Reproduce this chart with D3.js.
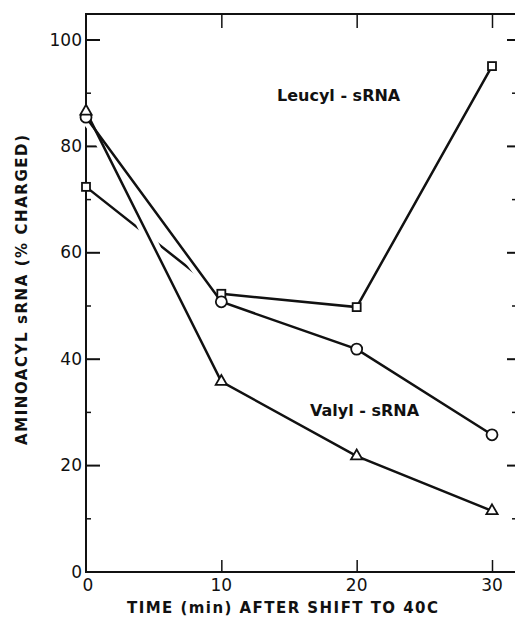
<!DOCTYPE html>
<html>
<head>
<meta charset="utf-8">
<script src="https://cdn.jsdelivr.net/npm/d3@7"></script>
<style>
  body { margin: 0; background: #fff; }
  svg { display: block; }
  text { font-family: "DejaVu Sans", sans-serif; fill: #111; }
</style>
</head>
<body>
<div id="chart"></div>
<script>
// data
const times = [0, 10, 20, 30];
const leucyl = [72.3, 52.2, 49.7, 95.0];   // squares
const valylCircle = [85.4, 50.7, 41.8, 25.7]; // circles
const valylTriangle = [86.5, 35.7, 21.7, 11.4]; // triangles
const yTicks = [0, 20, 40, 60, 80, 100];
const yMinor = [10, 30, 50, 70, 90];
const xTicks = [0, 10, 20, 30];

const width = 515;
const height = 621;

const x = d3.scaleLinear().domain([0, 30]).range([86, 492]);
const y = d3.scaleLinear().domain([0, 100]).range([571.5, 39.5]);

const svg = d3.select('#chart')
    .append('svg')
    .attr('width', width)
    .attr('height', height);

const ink = '#111';

// frame: left axis, bottom axis, top line
svg.append('line').attr('x1', 86).attr('x2', 86).attr('y1', 14).attr('y2', 572)
    .attr('stroke', ink).attr('stroke-width', 2);
svg.append('line').attr('x1', 85).attr('x2', 515).attr('y1', 572).attr('y2', 572)
    .attr('stroke', ink).attr('stroke-width', 2);
svg.append('line').attr('x1', 85).attr('x2', 515).attr('y1', 14).attr('y2', 14)
    .attr('stroke', ink).attr('stroke-width', 2);

// left axis, ticks pointing inward
const yAxis = d3.axisRight(y).tickValues(yTicks).tickSize(14).tickFormat('');
svg.append('g').attr('transform', 'translate(86,0)').call(yAxis)
    .call(g => g.select('.domain').remove())
    .call(g => g.selectAll('line').attr('stroke', ink).attr('stroke-width', 2));
svg.append('g').attr('transform', 'translate(86,0)')
    .call(d3.axisRight(y).tickValues(yMinor).tickSize(5).tickFormat(''))
    .call(g => g.select('.domain').remove())
    .call(g => g.selectAll('line').attr('stroke', ink).attr('stroke-width', 1.5));

svg.selectAll('.ylab')
    .data(yTicks)
    .enter()
    .append('text')
    .attr('class', 'ylab')
    .attr('x', 82)
    .attr('y', d => y(d))
    .attr('dy', '0.36em')
    .attr('text-anchor', 'end')
    .style('font-size', '17px')
    .text(d => d);

// right side ticks
svg.append('g').attr('transform', 'translate(515,0)')
    .call(d3.axisLeft(y).tickValues(yTicks.filter(d => d > 0)).tickSize(8).tickFormat(''))
    .call(g => g.select('.domain').remove())
    .call(g => g.selectAll('line').attr('stroke', ink).attr('stroke-width', 2));
svg.append('g').attr('transform', 'translate(515,0)')
    .call(d3.axisLeft(y).tickValues(yMinor).tickSize(3).tickFormat(''))
    .call(g => g.select('.domain').remove())
    .call(g => g.selectAll('line').attr('stroke', ink).attr('stroke-width', 1.5));

// bottom ticks (upward) and top ticks (downward)
svg.append('g').attr('transform', 'translate(0,572)')
    .call(d3.axisTop(x).tickValues(xTicks.slice(1)).tickSize(12).tickFormat(''))
    .call(g => g.select('.domain').remove())
    .call(g => g.selectAll('line').attr('stroke', ink).attr('stroke-width', 1.5));
svg.append('g').attr('transform', 'translate(0,14)')
    .call(d3.axisBottom(x).tickValues(xTicks.slice(1)).tickSize(14).tickFormat(''))
    .call(g => g.select('.domain').remove())
    .call(g => g.selectAll('line').attr('stroke', ink).attr('stroke-width', 1.5));

svg.selectAll('.xlab')
    .data(xTicks)
    .enter()
    .append('text')
    .attr('class', 'xlab')
    .attr('x', d => x(d) + (d === 0 ? 2 : 0))
    .attr('y', 585)
    .attr('dy', '0.36em')
    .attr('text-anchor', 'middle')
    .style('font-size', '17px')
    .text(d => d);

// axis titles
svg.append('text')
    .attr('x', 127).attr('y', 608).attr('dy', '0.36em')
    .attr('textLength', 311).attr('lengthAdjust', 'spacing')
    .style('font-size', '15px').style('font-weight', 'bold')
    .text('TIME (min) AFTER SHIFT TO 40C');

svg.append('text')
    .attr('transform', 'translate(22,445) rotate(-90)')
    .attr('dy', '0.36em')
    .attr('textLength', 310).attr('lengthAdjust', 'spacing')
    .style('font-size', '15px').style('font-weight', 'bold')
    .text('AMINOACYL sRNA (% CHARGED)');

// series labels
svg.append('text')
    .attr('x', 277).attr('y', 95).attr('dy', '0.36em')
    .style('font-size', '16px').style('font-weight', 'bold')
    .text('Leucyl - sRNA');
svg.append('text')
    .attr('x', 310).attr('y', 410).attr('dy', '0.36em')
    .style('font-size', '16px').style('font-weight', 'bold')
    .text('Valyl - sRNA');

const line = d3.line().x(d => x(d[0])).y(d => y(d[1]));
const sq = d3.zip(times, leucyl);
const ci = d3.zip(times, valylCircle);
const tr = d3.zip(times, valylTriangle);

svg.append('path').datum(sq).attr('d', line)
    .attr('fill', 'none').attr('stroke', ink).attr('stroke-width', 2.5);

// white breaks where the valyl lines cross the leucyl line
[ci, tr].forEach(s => {
    svg.append('path').datum(s.slice(0, 2)).attr('d', line)
        .attr('fill', 'none').attr('stroke', '#fff').attr('stroke-width', 12);
});
[ci, tr].forEach(s => {
    svg.append('path').datum(s).attr('d', line)
        .attr('fill', 'none').attr('stroke', ink).attr('stroke-width', 2.5);
});

// markers
svg.selectAll('.sq').data(sq).enter().append('rect')
    .attr('x', d => x(d[0]) - 4).attr('y', d => y(d[1]) - 4)
    .attr('width', 8).attr('height', 8)
    .attr('fill', '#fff').attr('stroke', ink).attr('stroke-width', 1.8);
svg.selectAll('.ci').data(ci).enter().append('circle')
    .attr('cx', d => x(d[0])).attr('cy', d => y(d[1])).attr('r', 5.5)
    .attr('fill', '#fff').attr('stroke', ink).attr('stroke-width', 1.8);
svg.selectAll('.tr').data(tr).enter().append('path')
    .attr('d', d3.symbol(d3.symbolTriangle, 55))
    .attr('transform', d => `translate(${x(d[0])},${y(d[1])})`)
    .attr('fill', '#fff').attr('stroke', ink).attr('stroke-width', 1.8);
</script>
</body>
</html>
